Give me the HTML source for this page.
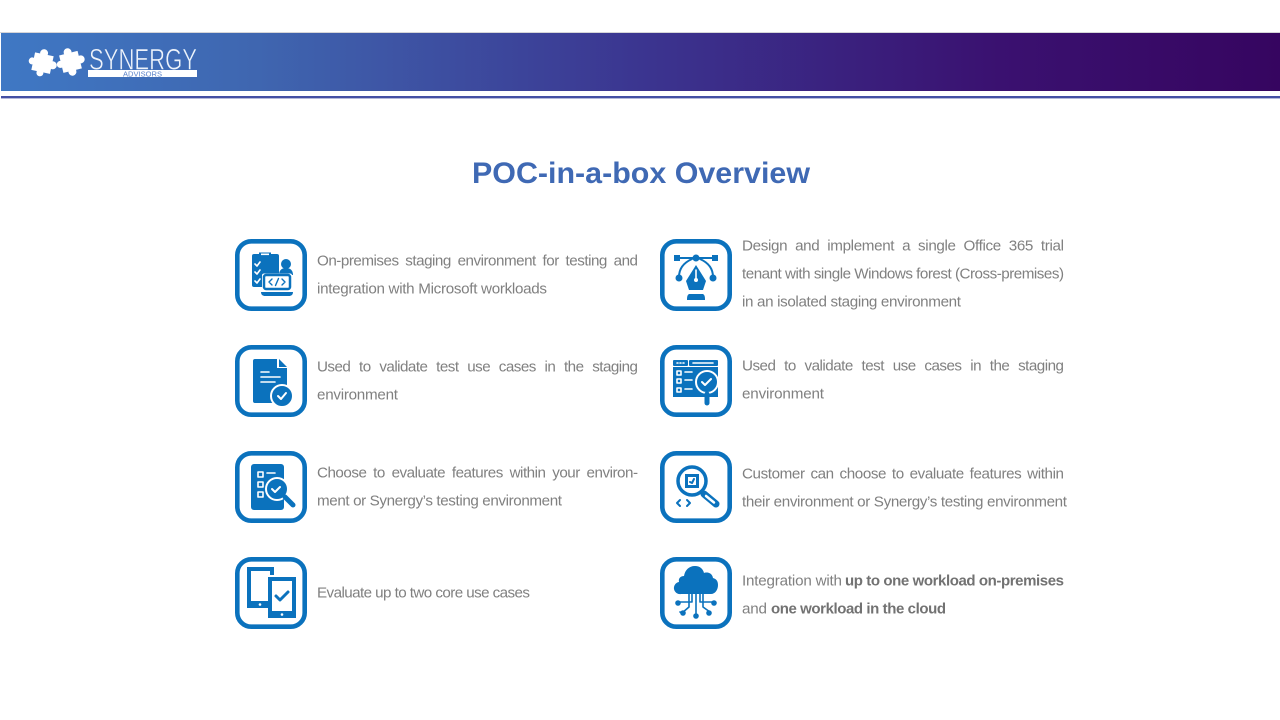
<!DOCTYPE html>
<html><head><meta charset="utf-8"><title>POC-in-a-box Overview</title>
<style>
html,body{margin:0;padding:0;background:#fff;width:1280px;height:720px;overflow:hidden}
svg{display:block}
.t{font-family:"Liberation Sans",sans-serif;font-size:15.2px;fill:#808080}
.b{font-family:"Liberation Sans",sans-serif;font-size:15px;font-weight:bold;fill:#727272}
.box{fill:#fff;stroke:#0b72bd;stroke-width:4.6}
.f{fill:#0b72bd}.w{fill:#fff}
.s{fill:none;stroke:#0b72bd;stroke-width:2.5;stroke-linecap:round;stroke-linejoin:round}
.ws{fill:none;stroke:#fff;stroke-width:1.6;stroke-linecap:round;stroke-linejoin:round}
</style></head><body>
<svg width="1280" height="720" viewBox="0 0 1280 720" xmlns="http://www.w3.org/2000/svg">
<defs><linearGradient id="g" x1="0" x2="1" y1="0" y2="0">
<stop offset="0" stop-color="#3f78c4"/><stop offset=".2" stop-color="#3f66b0"/><stop offset=".5" stop-color="#3b3590"/><stop offset=".78" stop-color="#3a1170"/><stop offset="1" stop-color="#360560"/></linearGradient></defs>
<rect x="0" y="32" width="1280" height="1" fill="#d5d5d8"/>
<rect x="1" y="33" width="1279" height="58" fill="url(#g)"/>
<rect x="1" y="96" width="1279" height="2.4" fill="#4450a4"/>
<!-- logo -->
<g class="w">
<g transform="rotate(12 42 63)"><rect x="33" y="54" width="19" height="18"/><circle cx="42" cy="53" r="4"/><circle cx="53" cy="63" r="4"/><circle cx="42" cy="73" r="3.500"/><circle cx="32" cy="63" r="3.500"/></g>
<g transform="rotate(-14 70 62)"><rect x="61" y="53" width="19" height="18"/><circle cx="70" cy="52" r="4"/><circle cx="81" cy="62" r="4"/><circle cx="70" cy="72" r="4"/><circle cx="60" cy="62" r="3.500"/></g>
</g>
<text x="89" y="69.500" font-family="'Liberation Sans',sans-serif" font-size="30" fill="#eef3fb" textLength="108" lengthAdjust="spacingAndGlyphs" stroke="#3f6fb8" stroke-width=".6">SYNERGY</text>
<rect x="88" y="70" width="109" height="7" fill="#fff"/>
<text x="123" y="76.600" font-family="'Liberation Sans',sans-serif" font-size="7" fill="#5b83c9" textLength="39" lengthAdjust="spacingAndGlyphs">ADVISORS</text>
<!-- title -->
<text x="472" y="183" font-family="'Liberation Sans',sans-serif" font-weight="bold" font-size="30" fill="#3f69b4" textLength="338" lengthAdjust="spacingAndGlyphs">POC-in-a-box Overview</text>

<!-- icon 1 -->
<g transform="translate(235,239)">
<rect class="box" x="2.300" y="2.300" width="67.400" height="67.400" rx="14"/>
<rect class="f" x="17" y="15" width="27" height="33" rx="2"/><rect class="f" x="24" y="13.500" width="12" height="4"/><rect class="w" x="26" y="14.500" width="8" height="1.600"/>
<path class="ws" d="M20 25l2 2 3-4M20 33l2 2 3-4M20 42l2 2 3-4"/>
<circle class="f" cx="51" cy="25" r="5"/><path class="f" d="M44 36c0-5 3-7 7-7s7 2 7 7z"/>
<rect x="27" y="34.500" width="30" height="17" rx="2" class="w"/><rect x="29" y="36" width="26" height="14" rx="2" fill="none" stroke="#0b72bd" stroke-width="2.500"/>
<path class="s" style="stroke-width:1.400" d="M37 40l-3 3 3 3M47 40l3 3-3 3M43.500 39.500l-3 7"/>
<path class="f" d="M26 53h32c0 3-2 4-4 4H30c-2 0-4-1-4-4z"/>
</g>
<!-- icon 2 -->
<g transform="translate(235,345)">
<rect class="box" x="2.300" y="2.300" width="67.400" height="67.400" rx="14"/>
<path class="f" d="M20 14h22v9h10v35H20a2 2 0 0 1-2-2V16a2 2 0 0 1 2-2z"/><path class="f" d="M44 14l8 8h-8z"/>
<path class="ws" d="M26 27h8M26 32h19M26 37h14"/>
<circle class="f" cx="47" cy="51" r="11" stroke="#fff" stroke-width="2"/><path class="ws" style="stroke-width:2" d="M43 51l3 3 5-6"/>
</g>
<!-- icon 3 -->
<g transform="translate(235,451)">
<rect class="box" x="2.300" y="2.300" width="67.400" height="67.400" rx="14"/>
<rect class="f" x="16" y="13" width="33" height="46" rx="3"/>
<path class="ws" d="M23 21h5v5h-5zM23 31h5v5h-5zM23 41h5v5h-5zM32 22h8"/>
<circle class="f" cx="42" cy="38" r="11" stroke="#fff" stroke-width="2"/><path class="ws" style="stroke-width:2" d="M37 38l3 3 5-5"/>
<path d="M50 46l8 8" stroke="#0b72bd" stroke-width="5" stroke-linecap="round"/>
</g>
<!-- icon 4 -->
<g transform="translate(235,557)">
<rect class="box" x="2.300" y="2.300" width="67.400" height="67.400" rx="14"/>
<path class="f" d="M12 10h27v8H35v-4H16v30h17v7H12z"/><circle class="w" cx="25" cy="47.500" r="1.300"/>
<path class="f" fill-rule="evenodd" d="M33 20h28v41H33zM37 24v30h20V24z"/>
<circle class="w" cx="47" cy="57.500" r="1.300"/>
<path class="s" style="stroke-width:3" d="M41 39l4 4 8-8"/>
</g>
<!-- icon 5 -->
<g transform="translate(660,239)">
<rect class="box" x="2.300" y="2.300" width="67.400" height="67.400" rx="14"/>
<rect class="f" x="14" y="16" width="6" height="6"/><rect class="f" x="52" y="16" width="6" height="6"/><path class="s" style="stroke-width:2" d="M18 19h36"/>
<circle class="f" cx="36" cy="19" r="3.500"/>
<path class="s" style="stroke-width:2" d="M32 20C23 24 19 30 19 38M40 20c9 4 13 10 13 18"/>
<circle class="f" cx="19" cy="39" r="3.500"/><circle class="f" cx="53" cy="39" r="3.500"/>
<path class="f" d="M36 26L26 42l3 9h14l3-9z"/>
<path class="ws" d="M36 31v8"/><circle class="w" cx="36" cy="41" r="2"/>
<path class="f" d="M29 55h14c2 1 2 4 2 6H27c0-2 0-5 2-6z"/>
</g>
<!-- icon 6 -->
<g transform="translate(660,345)">
<rect class="box" x="2.300" y="2.300" width="67.400" height="67.400" rx="14"/>
<rect class="f" x="13" y="15" width="15" height="6" rx="1"/><rect class="f" x="29" y="15" width="29" height="6" rx="1"/>
<path class="f" d="M13 22h45v30H13z"/>
<path class="ws" d="M33 18h20M17 18h1M20 18h1M23 18h1"/>
<path class="ws" d="M17 26h4v4h-4zM17 34h4v4h-4zM17 43h4v4h-4zM25 27h7M25 35h7M25 44h7"/>
<circle class="f" cx="47" cy="37" r="11" stroke="#fff" stroke-width="2"/><path class="ws" style="stroke-width:2" d="M42 37l3 3 6-6"/>
<path d="M47 49v9" stroke="#0b72bd" stroke-width="5" stroke-linecap="round"/>
</g>
<!-- icon 7 -->
<g transform="translate(660,451)">
<rect class="box" x="2.300" y="2.300" width="67.400" height="67.400" rx="14"/>
<circle cx="32" cy="30" r="14" fill="none" stroke="#0b72bd" stroke-width="3.500"/>
<rect class="f" x="25" y="23" width="14" height="14"/><rect class="w" x="28" y="26" width="8" height="8"/><path class="s" style="stroke-width:2" d="M30 31l2 1 2-4"/>
<path d="M44 43l12 10" stroke="#0b72bd" stroke-width="7" stroke-linecap="round"/><path d="M46 45l8 6.500" stroke="#fff" stroke-width="2.500" stroke-linecap="round"/>
<path class="s" style="stroke-width:2" d="M20 49l-3 3 3 3M27 49l3 3-3 3"/>
</g>
<!-- icon 8 -->
<g transform="translate(660,557)">
<rect class="box" x="2.300" y="2.300" width="67.400" height="67.400" rx="14"/>
<path class="f" d="M21 37a6 6 0 0 1-2-12c-1-4 2-6 5-6 1-6 5-10 11-10 5 0 8 3 9 7 2-1 8-1 9 5 4 1 5 4 5 7 0 5-3 9-7 9z"/>
<path class="s" style="stroke-width:1.600" d="M36 37v22M32 37v8l-13 0M40 37v8h13M29 37v13l-7 6-2-1M43 37v13l7 5"/>
<circle class="f" cx="18" cy="46" r="2.800"/><circle class="f" cx="54" cy="46" r="2.800"/><circle class="f" cx="23" cy="56" r="2.800"/><circle class="f" cx="49" cy="56" r="2.800"/><circle class="f" cx="36" cy="59" r="2.800"/>
</g>

<!-- left text -->
<text class="t" x="317" y="265.500" word-spacing="3" textLength="321" lengthAdjust="spacing">On-premises staging environment for testing and</text>
<text class="t" x="317" y="293.500" textLength="230" lengthAdjust="spacing">integration with Microsoft workloads</text>
<text class="t" x="317" y="371.500" word-spacing="5" textLength="321" lengthAdjust="spacing">Used to validate test use cases in the staging</text>
<text class="t" x="317" y="399.500" textLength="81" lengthAdjust="spacing">environment</text>
<text class="t" x="317" y="477.500" word-spacing="3" textLength="321" lengthAdjust="spacing">Choose to evaluate features within your environ-</text>
<text class="t" x="317" y="505.500" textLength="245" lengthAdjust="spacing">ment or Synergy’s testing environment</text>
<text class="t" x="317" y="597.500" textLength="213" lengthAdjust="spacing">Evaluate up to two core use cases</text>

<!-- right text -->
<text class="t" x="742" y="250.500" word-spacing="4" textLength="322" lengthAdjust="spacing">Design and implement a single Office 365 trial</text>
<text class="t" x="742" y="278.500" textLength="322" lengthAdjust="spacing">tenant with single Windows forest (Cross-premises)</text>
<text class="t" x="742" y="306.500" textLength="219" lengthAdjust="spacing">in an isolated staging environment</text>
<text class="t" x="742" y="370.500" word-spacing="5" textLength="322" lengthAdjust="spacing">Used to validate test use cases in the staging</text>
<text class="t" x="742" y="398.500" textLength="82" lengthAdjust="spacing">environment</text>
<text class="t" x="742" y="478.500" word-spacing="2" textLength="322" lengthAdjust="spacing">Customer can choose to evaluate features within</text>
<text class="t" x="742" y="506.500" textLength="325" lengthAdjust="spacing">their environment or Synergy’s testing environment</text>
<text class="t" x="742" y="585.500" textLength="100" lengthAdjust="spacing">Integration with</text>
<text class="b" x="845" y="585.500" textLength="219" lengthAdjust="spacing">up to one workload on-premises</text>
<text class="t" x="742" y="613.500" textLength="25" lengthAdjust="spacing">and</text>
<text class="b" x="771" y="613.500" textLength="175" lengthAdjust="spacing">one workload in the cloud</text>
</svg>
</body></html>
